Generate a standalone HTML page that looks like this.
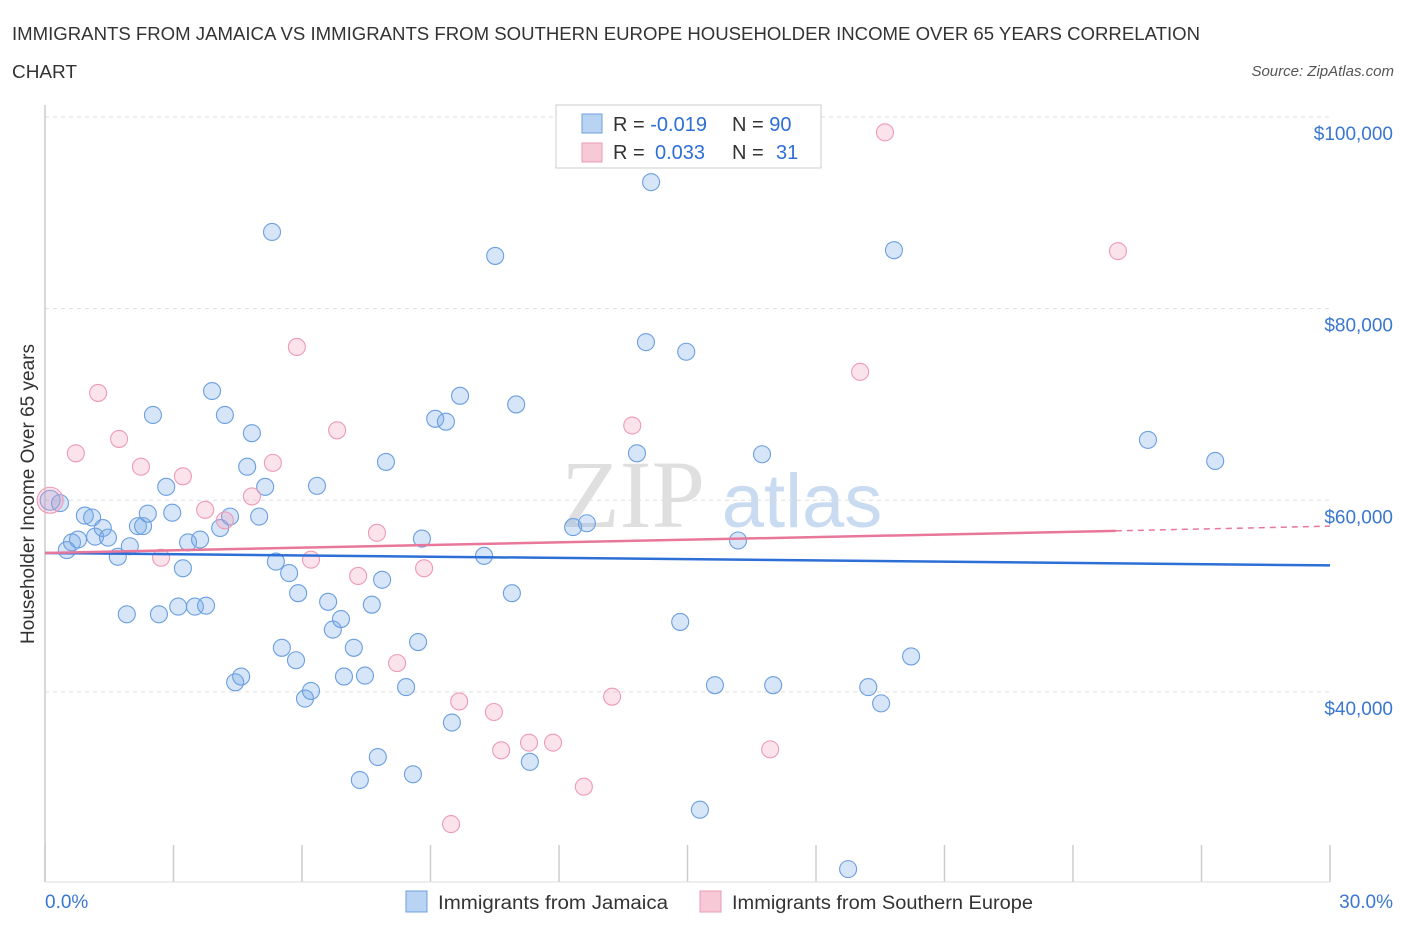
<!DOCTYPE html>
<html><head><meta charset="utf-8"><style>
body{margin:0;background:#fff;font-family:"Liberation Sans",sans-serif;}
svg{display:block}
</style></head><body>
<svg width="1406" height="930" viewBox="0 0 1406 930" xmlns="http://www.w3.org/2000/svg" id="svg">
<text x="12" y="40" font-size="18" fill="#333" textLength="1188" lengthAdjust="spacingAndGlyphs">IMMIGRANTS FROM JAMAICA VS IMMIGRANTS FROM SOUTHERN EUROPE HOUSEHOLDER INCOME OVER 65 YEARS CORRELATION</text>
<text x="12" y="78" font-size="18" fill="#333" textLength="65" lengthAdjust="spacingAndGlyphs">CHART</text>
<text x="1394" y="76" font-size="15" font-style="italic" fill="#555" text-anchor="end">Source: ZipAtlas.com</text>
<g>
<text x="633" y="527" font-size="96" font-family="Liberation Serif,serif" fill="#d8d8d8" text-anchor="middle" opacity="0.8">ZIP</text>
<text x="802" y="527" font-size="76" fill="#bcd3ee" text-anchor="middle" opacity="0.8">atlas</text>
</g>
<g id="grid"></g>
<g id="ticks"></g>
<line x1="45" y1="105" x2="45" y2="882" stroke="#ccc" stroke-width="1.5"/>
<line x1="45" y1="882" x2="1330" y2="882" stroke="#ddd" stroke-width="1"/>
<g id="points"></g>
<g id="trends"></g>
<text transform="translate(34,494) rotate(-90)" font-size="19" fill="#333" text-anchor="middle">Householder Income Over 65 years</text>
<text x="45" y="908" font-size="19" fill="#3a77d0">0.0%</text>
<text x="1393" y="908" font-size="19" fill="#3a77d0" text-anchor="end">30.0%</text>
<g>
<rect x="556" y="105" width="265" height="63" fill="#fff" stroke="#ccc"/>
<rect x="582" y="114" width="20" height="19" fill="#b9d3f3" stroke="#6d9fe0"/>
<rect x="582" y="143" width="20" height="19" fill="#f7c9d6" stroke="#eb9ab4"/>
<text x="613" y="131" font-size="20" fill="#333">R = <tspan fill="#2d6fd6">-0.019</tspan><tspan x="732">N = </tspan><tspan fill="#2d6fd6">90</tspan></text>
<text x="613" y="159" font-size="20" fill="#333">R = <tspan fill="#2d6fd6" x="655">0.033</tspan><tspan x="732">N = </tspan><tspan fill="#2d6fd6" x="776">31</tspan></text>
</g>
<g>
<rect x="406" y="891" width="21" height="21" fill="#b9d3f3" stroke="#6d9fe0"/>
<text x="438" y="909" font-size="19" fill="#333" textLength="230" lengthAdjust="spacingAndGlyphs">Immigrants from Jamaica</text>
<rect x="700" y="891" width="21" height="21" fill="#f7c9d6" stroke="#eb9ab4"/>
<text x="732" y="909" font-size="19" fill="#333" textLength="301" lengthAdjust="spacingAndGlyphs">Immigrants from Southern Europe</text>
</g>
</svg>
<script>
const yTicks=[40000,60000,80000,100000];
const yTickLabels=["$40,000","$60,000","$80,000","$100,000"];
const xTicks=[0,3,6,9,12,15,18,21,24,27,30];
const blueX=[0.12,0.35,0.51,0.63,0.77,0.93,1.10,1.17,1.35,1.47,1.70,1.91,1.98,2.17,2.29,2.40,2.52,2.66,2.83,2.97,3.11,3.22,3.34,3.50,3.62,3.76,3.90,4.09,4.20,4.32,4.44,4.58,4.72,4.83,5.00,5.14,5.30,5.39,5.53,5.70,5.86,5.91,6.07,6.21,6.35,6.61,6.72,6.91,6.98,7.21,7.35,7.47,7.63,7.77,7.87,7.96,8.43,8.59,8.71,8.80,9.11,9.36,9.50,9.69,10.25,10.51,10.90,11.00,11.32,12.33,12.65,13.82,14.03,14.15,14.83,14.97,15.29,15.64,16.18,16.74,17.00,18.75,19.22,19.52,19.82,20.22,25.75,27.32];
const blueY=[60.0,59.7,54.8,55.6,55.9,58.4,58.2,56.2,57.1,56.1,54.1,48.1,55.2,57.3,57.3,58.6,68.9,48.1,61.4,58.7,48.9,52.9,55.6,48.9,55.9,49.0,71.4,57.1,68.9,58.3,41.0,41.6,63.5,67.0,58.3,61.4,88.0,53.6,44.6,52.4,43.3,50.3,39.3,40.1,61.5,49.4,46.5,47.6,41.6,44.6,30.8,41.7,49.1,33.2,51.7,64.0,40.5,31.4,45.2,56.0,68.5,68.2,36.8,70.9,54.2,85.5,50.3,70.0,32.7,57.2,57.6,64.9,76.5,93.2,47.3,75.5,27.7,40.7,55.8,64.8,40.7,21.5,40.5,38.8,86.1,43.7,66.3,64.1];
const pinkX=[0.12,0.72,1.24,1.73,2.24,2.71,3.22,3.74,4.20,4.83,5.32,5.88,6.21,6.82,7.31,7.75,8.22,8.85,9.48,9.67,10.48,10.65,11.30,11.86,12.58,13.24,13.71,16.93,19.03,19.61,25.05];
const pinkY=[60.0,64.9,71.2,66.4,63.5,54.0,62.5,59.0,57.9,60.4,63.9,76.0,53.8,67.3,52.1,56.6,43.0,52.9,26.2,39.0,37.9,33.9,34.7,34.7,30.1,39.5,67.8,34.0,73.4,98.4,86.0];
const blueTrend=[54.5,53.2];
const pinkTrend=[54.5,56.8,57.3];
const pinkTrendX=[0,25,30];
const NS="http://www.w3.org/2000/svg";
const xs=v=>45+v/30*1285;
const ys=v=>883.5-(v-20000)/80000*766.5;
function mk(t,a,p){const e=document.createElementNS(NS,t);for(const k in a)e.setAttribute(k,a[k]);p.appendChild(e);return e;}
const grid=document.getElementById('grid');
yTicks.forEach((v,i)=>{
 const l=mk('line',{x1:45,x2:1330,y1:ys(v),y2:ys(v),stroke:'#ddd','stroke-dasharray':'4,4'},grid);
 
 
 const t=mk('text',{x:1393,y:ys(v)+23,'font-size':19,fill:'#3a77d0','text-anchor':'end'},grid);
 t.textContent=yTickLabels[i];
 
 
});
const tg=document.getElementById('ticks');
xTicks.forEach(v=>{
 const l=mk('line',{x1:xs(v),x2:xs(v),y1:845,y2:882,stroke:'#ccc','stroke-width':1.5},tg);
 
 
});
const pg=document.getElementById('points');
blueX.forEach((x,i)=>{
 const c=mk('circle',{cx:xs(x),cy:ys(blueY[i]*1000),r:i===0?10:8.5,fill:'rgba(120,170,232,0.3)',stroke:'#6b9fe0','stroke-width':1.1},pg);
 
 
});
pinkX.forEach((x,i)=>{
 const c=mk('circle',{cx:xs(x),cy:ys(pinkY[i]*1000),r:i===0?13:8.5,fill:'rgba(240,155,185,0.28)',stroke:'#ee9ab5','stroke-width':1.1},pg);
 
 
});
const trg=document.getElementById('trends');
let b=mk('line',{x1:xs(0),y1:ys(blueTrend[0]*1000),x2:xs(30),y2:ys(blueTrend[1]*1000),stroke:'#2d6fd6','stroke-width':2.5},trg);


let p=mk('line',{x1:xs(pinkTrendX[0]),y1:ys(pinkTrend[0]*1000),x2:xs(pinkTrendX[1]),y2:ys(pinkTrend[1]*1000),stroke:'#e8779a','stroke-width':2.5},trg);


let pd=mk('line',{x1:xs(pinkTrendX[1]),y1:ys(pinkTrend[1]*1000),x2:xs(pinkTrendX[2]),y2:ys(pinkTrend[2]*1000),stroke:'#e8779a','stroke-width':1.5,'stroke-dasharray':'6,5'},trg);


</script>
</body></html>
